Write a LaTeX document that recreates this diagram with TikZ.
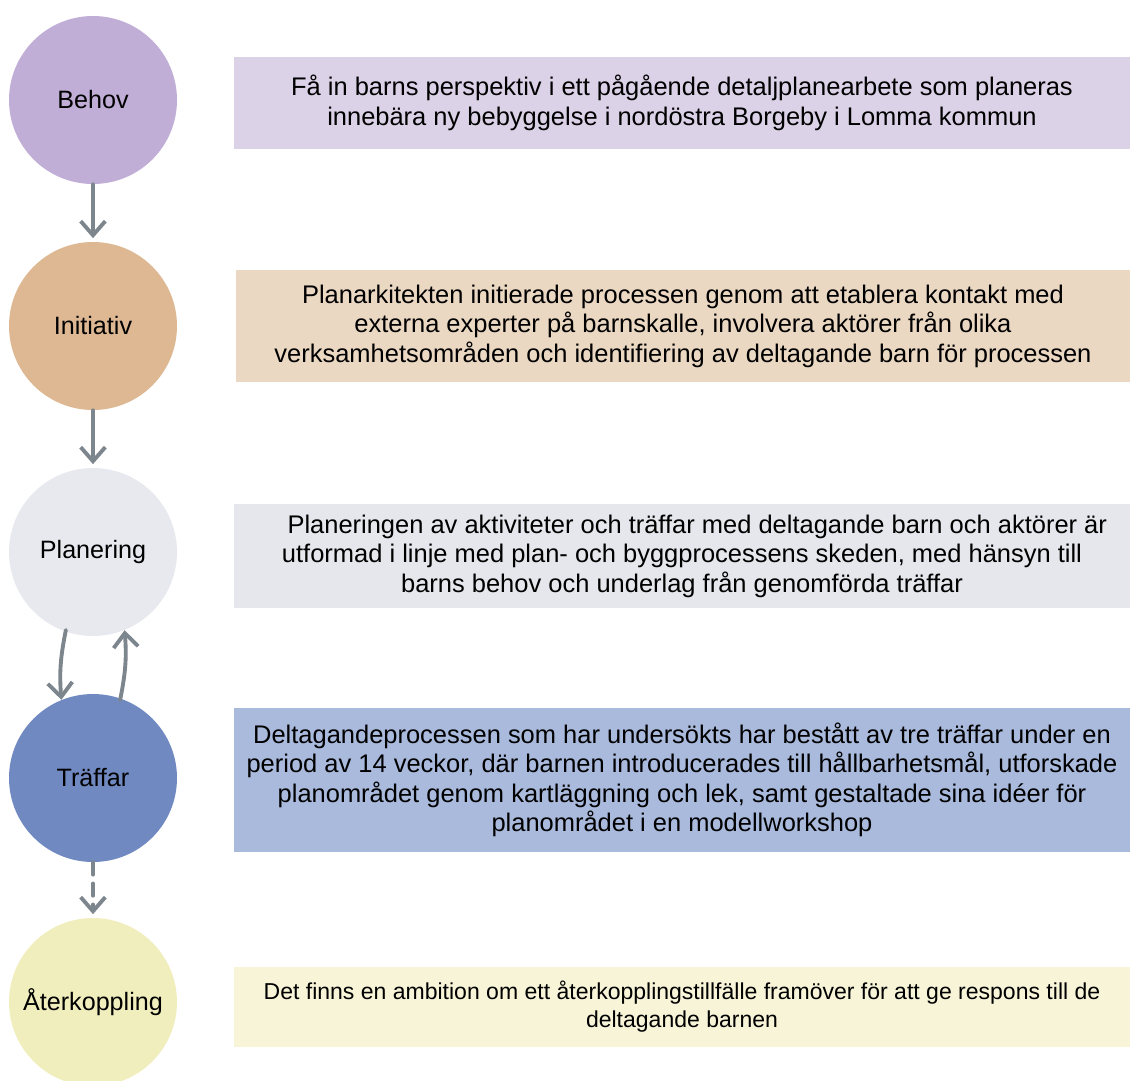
\documentclass[tikz,border=0pt]{standalone}
\usepackage{fontspec}
\setmainfont{Liberation Sans}
\usetikzlibrary{arrows.meta}

\definecolor{behovC}{HTML}{C0AED6}
\definecolor{behovB}{HTML}{DCD2E8}
\definecolor{initC}{HTML}{DDB893}
\definecolor{initB}{HTML}{EBD8C3}
\definecolor{planC}{HTML}{E8E9EE}
\definecolor{planB}{HTML}{E6E7EC}
\definecolor{traffC}{HTML}{7189C1}
\definecolor{traffB}{HTML}{A9BADD}
\definecolor{aterC}{HTML}{F1EEBE}
\definecolor{aterB}{HTML}{F7F4D8}
\definecolor{arrowC}{HTML}{7D858D}

\tikzset{
  phase/.style={circle, minimum size=168*0.02cm, inner sep=0pt,
    font=\fontsize{14.3}{17}\selectfont},
  infobox/.style={rectangle, minimum width=896*0.02cm, inner sep=0pt,
    align=center, font=\fontsize{14.5}{16.8}\selectfont},
  flow/.style={draw=arrowC, line width=2.2pt, line cap=round,
    -{Straight Barb[length=8pt, width=14pt, line width=2.2pt]}},
}

\begin{document}
\begin{tikzpicture}[x=0.02cm, y=-0.02cm]

    % Fix the page size (1130 x 1080 px)
    \useasboundingbox (0, 0) rectangle (1130, 1080);

    % Phase circles on the left
    \node[phase, fill=behovC] (behov) at (93, 100) {Behov};
    \node[phase, fill=initC] (initiativ) at (93, 326) {Initiativ};
    \node[phase, fill=planC] (planering) at (93, 552) {Planering};
    \node[phase, fill=traffC] (traffar) at (93, 778) {Träffar};
    \node[phase, fill=aterC] (aterkoppling) at (93, 1002) {Återkoppling};

    % Description boxes on the right
    \node[infobox, fill=behovB, minimum height=92*0.02cm] (behovtext) at (682, 103)
      {Få in barns perspektiv i ett pågående detaljplanearbete som planeras\\
       innebära ny bebyggelse i nordöstra Borgeby i Lomma kommun};
    \node[infobox, fill=initB, minimum width=894*0.02cm, minimum height=112*0.02cm] (initiativtext) at (683, 326)
      {Planarkitekten initierade processen genom att etablera kontakt med\\
       externa experter på barnskalle, involvera aktörer från olika\\
       verksamhetsområden och identifiering av deltagande barn för processen};
    \node[infobox, fill=planB, minimum height=104*0.02cm] (planeringtext) at (682, 556)
      {\hspace{1.2em}Planeringen av aktiviteter och träffar med deltagande barn och aktörer är\\
       utformad i linje med plan- och byggprocessens skeden, med hänsyn till\\
       barns behov och underlag från genomförda träffar};
    \node[infobox, fill=traffB, minimum height=144*0.02cm] (traffartext) at (682, 780)
      {Deltagandeprocessen som har undersökts har bestått av tre träffar under en\\
       period av 14 veckor, där barnen introducerades till hållbarhetsmål, utforskade\\
       planområdet genom kartläggning och lek, samt gestaltade sina idéer för\\
       planområdet i en modellworkshop};
    \node[infobox, fill=aterB, minimum height=80*0.02cm, font=\fontsize{13.1}{16}\selectfont] (aterkopplingtext) at (682, 1007)
      {Det finns en ambition om ett återkopplingstillfälle framöver för att ge respons till de\\
       deltagande barnen};

    % Arrows between the phases
    \draw[flow, shorten >=2pt] (behov) -- (initiativ);
    \draw[flow, shorten >=2pt] (initiativ) -- (planering);
    \draw[flow, shorten <=-1pt] (planering.251) to[bend right=8] (traffar.112);
    \draw[flow, shorten <=-1pt] (traffar.71) to[bend right=8] (planering.292);
    \draw[flow, dashed, dash pattern=on 7pt off 5pt, shorten >=2pt] (traffar) -- (aterkoppling);

\end{tikzpicture}
\end{document}
